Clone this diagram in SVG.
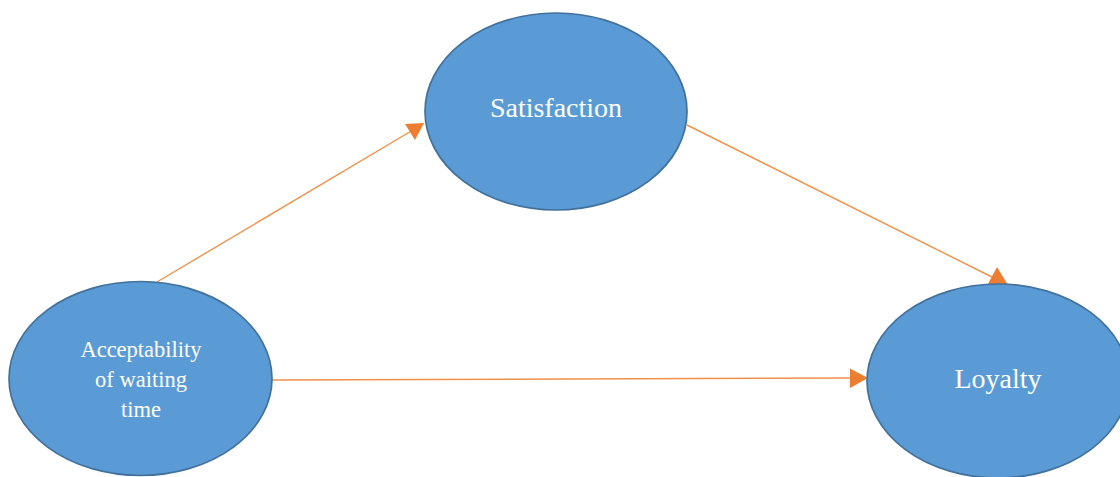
<svg xmlns="http://www.w3.org/2000/svg" width="1120" height="477" viewBox="0 0 1120 477">
  <style>
    .node ellipse { fill: #5B9BD5; stroke: #41719C; stroke-width: 1.7; }
    .node text { fill: #FFFFFF; font-family: "Liberation Serif", "Times New Roman", serif; text-anchor: middle; }
    .edge { stroke: #F0914A; stroke-width: 1.4; fill: none; }
    .head { fill: #ED7D31; }
  </style>
  <rect width="1120" height="477" fill="#FFFFFF"/>

  <g id="connectors">
    <!-- acceptability -> satisfaction -->
    <line class="edge" x1="157" y1="282" x2="418" y2="127"/>
    <path class="head" d="M424,123 L405,124 L415,140 Z"/>
    <!-- satisfaction -> loyalty -->
    <line class="edge" x1="687" y1="125" x2="1000" y2="281"/>
    <path class="head" d="M1008,285 L997,267 L988,284 Z"/>
    <!-- acceptability -> loyalty -->
    <line class="edge" x1="272" y1="380" x2="852" y2="378"/>
    <path class="head" d="M868,378 L850,368.5 L850,388 Z"/>
  </g>

  <g id="node-satisfaction" class="node">
    <ellipse cx="556" cy="111.5" rx="131" ry="98.5"/>
    <text x="556" y="117" font-size="28">Satisfaction</text>
  </g>

  <g id="node-acceptability" class="node">
    <ellipse cx="140.5" cy="378.5" rx="131.5" ry="97"/>
    <text x="141" y="357" font-size="22.5">Acceptability</text>
    <text x="141" y="387" font-size="22.5">of waiting</text>
    <text x="141" y="417" font-size="22.5">time</text>
  </g>

  <g id="node-loyalty" class="node">
    <ellipse cx="998" cy="381" rx="131" ry="97"/>
    <text x="998" y="388" font-size="28">Loyalty</text>
  </g>
</svg>
